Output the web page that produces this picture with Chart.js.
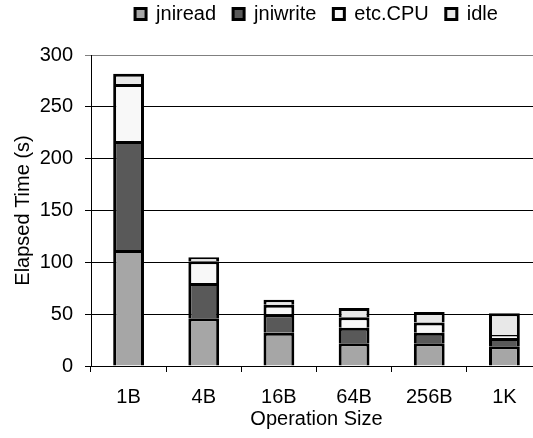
<!DOCTYPE html>
<html>
<head>
<meta charset="utf-8">
<script src="https://cdn.jsdelivr.net/npm/chart.js@4"></script>
<style>
    html, body { margin: 0; padding: 0; background: #fff; overflow: hidden; }
    #wrap { width: 545px; height: 438px; }
</style>
</head>
<body>
<div id="wrap"><canvas id="chart" width="545" height="438"></canvas></div>
<script>
// Data
const sizes = ['1B', '4B', '16B', '64B', '256B', '1K'];
const jniread = [112, 46, 32, 22, 22, 19];
const jniwrite = [105, 34, 18, 15, 10, 8];
const etcCpu = [55, 21, 9, 10, 10, 3];
const idle = [10, 4, 5, 9, 10, 21];
const yTicks = [0, 50, 100, 150, 200, 250, 300];

Chart.defaults.font.family = "'Liberation Sans', Arial, sans-serif";
Chart.defaults.font.size = 20;
Chart.defaults.color = '#000';

function makeSet(label, data, color) {
    return {
        label: label,
        data: data,
        backgroundColor: color,
        borderColor: '#000',
        borderWidth: 3,
        barPercentage: 0.41,
        categoryPercentage: 1
    };
}

const ctx = document.getElementById('chart').getContext('2d');
new Chart(ctx, {
    type: 'bar',
    data: {
        labels: sizes,
        datasets: [
            makeSet('jniread', jniread, '#a6a6a6'),
            makeSet('jniwrite', jniwrite, '#595959'),
            makeSet('etc.CPU', etcCpu, '#f8f8f8'),
            makeSet('idle', idle, '#e8e8e8')
        ]
    },
    options: {
        responsive: false,
        animation: false,
        layout: { padding: { top: -13, left: 0, right: 3, bottom: 0 } },
        plugins: {
            legend: {
                position: 'top',
                fullSize: false,
                labels: {
                    boxWidth: 11,
                    boxHeight: 11,
                    padding: 17,
                    color: '#000',
                    font: { size: 20 }
                }
            },
            // empty subtitle used only as a gap under the legend
            subtitle: {
                display: true,
                text: '',
                weight: 500,
                padding: 4.5,
                font: { size: 10 }
            },
            tooltip: { enabled: false }
        },
        scales: {
            x: {
                stacked: true,
                grid: {
                    offset: true,
                    drawOnChartArea: false,
                    drawTicks: true,
                    tickLength: 6,
                    color: '#000'
                },
                border: { color: '#000', width: 1 },
                ticks: { padding: 13.5, color: '#000', font: { size: 20 } },
                title: {
                    display: true,
                    text: 'Operation Size',
                    color: '#000',
                    font: { size: 20 },
                    padding: { top: 0, bottom: 7 }
                },
                afterFit: function(scale) { scale.height = 72; }
            },
            y: {
                stacked: true,
                min: 0,
                max: 300,
                afterBuildTicks: function(scale) {
                    scale.ticks = yTicks.map(v => ({ value: v }));
                },
                grid: {
                    color: ctx => ctx.tick && ctx.tick.value === 300 ? '#808080' : '#000',
                    drawTicks: true,
                    tickLength: 6
                },
                border: { color: '#000', width: 1 },
                ticks: { padding: 12, color: '#000', font: { size: 20 } },
                title: {
                    display: true,
                    text: 'Elapsed Time (s)',
                    color: '#000',
                    font: { size: 20 },
                    padding: { top: 11, bottom: 0 }
                },
                afterFit: function(scale) { scale.width = 91; }
            }
        }
    }
});
</script>
</body>
</html>
